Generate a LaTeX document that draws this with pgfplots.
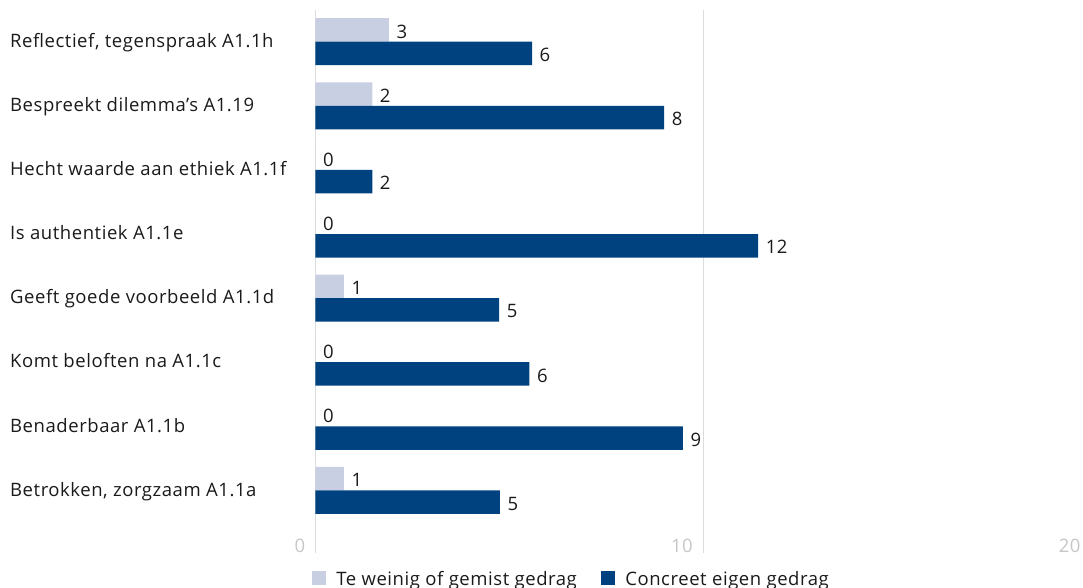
\documentclass[border=0pt]{standalone}
\usepackage{fontspec}
\setmainfont{Open Sans}[LetterSpace=3]
\usepackage{pgfplots}
\pgfplotsset{compat=1.18}
\definecolor{lightbar}{HTML}{C8CFE2}
\definecolor{darkbar}{HTML}{00427F}
\definecolor{gridc}{HTML}{DCDCDC}
\definecolor{tickc}{HTML}{C6C6C6}
\definecolor{txt}{HTML}{1A1A1A}
\begin{document}
\fontsize{18.5}{22}\selectfont
\begin{tikzpicture}
\useasboundingbox (0,0) rectangle (1083pt,588pt);
\begin{axis}[
  at={(315.3pt,35pt)}, anchor=south west,
  scale only axis, width=775.4pt, height=543pt,
  xmin=0, xmax=20, ymin=-0.977, ymax=7.495,
  xbar, bar width=23.5pt,
  xtick={0,10,20}, ytick={0,...,7},
  yticklabels={{Betrokken, zorgzaam A1.1a},{Benaderbaar A1.1b},{Komt beloften na A1.1c},{Geeft goede voorbeeld A1.1d},{Is authentiek A1.1e},{Hecht waarde aan ethiek A1.1f},{Bespreekt dilemma’s A1.19},{Reflectief, tegenspraak A1.1h}},
  axis line style={draw=none},
  major tick length=0pt,
  xmajorgrids, grid style={gridc, line width=1pt},
  /pgf/number format/assume math mode=true,
  xticklabel style={anchor=base east, inner sep=0pt, xshift=-10pt, text=tickc},
  yticklabel style={anchor=base west, inner sep=0pt, xshift=-305.3pt, yshift=-5.8pt, text=txt},
  nodes near coords, point meta=explicit symbolic,
  every node near coord/.append style={anchor=west, inner sep=0pt, xshift=7.5pt, yshift=-1.5pt, text=txt},
  legend style={at={(rel axis cs:0,0)}, anchor=north west, xshift=-3.6pt, yshift=-17.5pt,
    draw=none, fill=none, inner sep=0pt, legend columns=2,
    nodes={inner sep=0pt, text=txt},
    /tikz/every odd column/.append style={column sep=10pt},
    /tikz/every even column/.append style={column sep=24pt}},
  legend cell align=left,
]
\addplot[fill=lightbar, draw=none, bar shift=11.75pt,
  legend image code/.code={\fill[lightbar] (0pt,-5pt) rectangle (14.5pt,9pt);}]
  coordinates {(1.9,7) [3] (1.47,6) [2] (0,5) [0] (0,4) [0] (0.74,3) [1] (0,2) [0] (0,1) [0] (0.74,0) [1]};
\addlegendentry{Te weinig of gemist gedrag}
\addplot[fill=darkbar, draw=none, bar shift=-11.75pt,
  legend image code/.code={\fill[darkbar] (0pt,-5pt) rectangle (14.5pt,9pt);}]
  coordinates {(5.59,7) [6] (9.0,6) [8] (1.47,5) [2] (11.42,4) [12] (4.74,3) [5] (5.52,2) [6] (9.48,1) [9] (4.76,0) [5]};
\addlegendentry{Concreet eigen gedrag}
\end{axis}
\end{tikzpicture}
\end{document}
